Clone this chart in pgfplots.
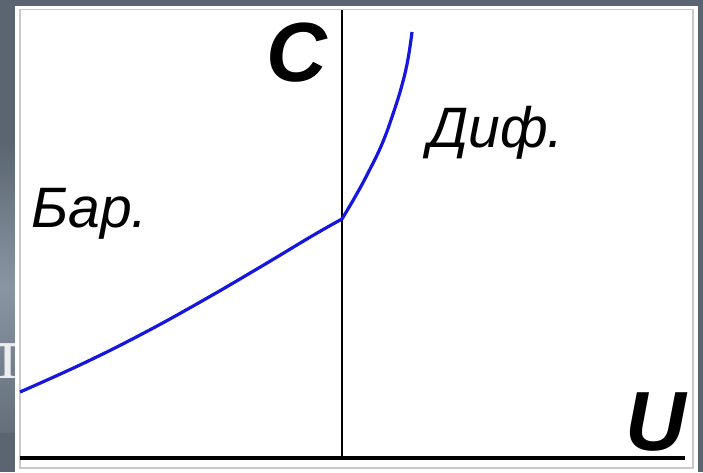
\documentclass[border=0pt]{standalone}
\usepackage{pgfplots}
\pgfplotsset{compat=1.18}
\usepackage{fontspec}
\setmainfont{Liberation Sans}
\newfontfamily\slidefont{Liberation Serif}

\definecolor{slate}{HTML}{5B6572}
\definecolor{slatelight}{HTML}{8A95A3}
\definecolor{curveblue}{RGB}{22,22,222}
\definecolor{framegray}{HTML}{C9C9C9}

% C(U) curve: barrier part (U<0) and diffusion part (U>0)
\pgfplotstableread{
u     c
-3.22 0.66
-2.60 0.94
-2.00 1.24
-1.40 1.57
-0.80 1.92
-0.30 2.22
 0.00 2.39
}\barrier
\pgfplotstableread{
u     c
0.00 2.39
0.13 2.61
0.26 2.85
0.40 3.14
0.51 3.44
0.60 3.73
0.66 3.99
0.70 4.26
}\diffusion

\begin{document}
\begin{tikzpicture}[x=1pt,y=1pt]
\clip (0,0) rectangle (703,472);
% slide background
\fill[slate] (0,0) rectangle (703,472);
\shade[top color=slate, bottom color=slate!80!slatelight, middle color=slatelight]
  (0,40) rectangle (40,330);
\node[anchor=base, inner sep=0, text=white!88!slate,
      font=\slidefont\fontsize{76}{76}\selectfont] at (8,94) {т};
% white panel with thin grey frame
\fill[white] (15,0) rectangle (698,466);
\draw[framegray, line width=1.8pt] (20,4) rectangle (693,462.5);

\begin{axis}[
  at={(20pt,14pt)}, anchor=south west,
  scale only axis, width=665pt, height=448pt,
  xmin=-3.22, xmax=3.43, ymin=0, ymax=4.48,
  hide axis, clip=false,
]
  % coordinate axes
  \addplot[black, line width=3.2pt, line cap=butt] coordinates {(-3.22,0) (3.43,0)};
  \addplot[black, line width=2.2pt] coordinates {(0,0) (0,4.48)};
  % capacitance curve
  \addplot[curveblue, line width=3.2pt, smooth, tension=0.7] table[x=u, y=c] {\barrier};
  \addplot[curveblue, line width=3.2pt, smooth, tension=0.7] table[x=u, y=c] {\diffusion};
\end{axis}

% labels
\node[anchor=base, inner sep=0, font=\fontsize{84}{84}\selectfont\bfseries\itshape]
  at (297,390) {C};
\node[anchor=base, inner sep=0, font=\fontsize{84}{84}\selectfont\bfseries\itshape]
  at (656,22) {U};
\node[anchor=base west, inner sep=0, font=\fontsize{57}{57}\selectfont\itshape]
  at (31,245) {Бар.};
\node[anchor=base west, inner sep=0, font=\fontsize{57}{57}\selectfont\itshape]
  at (428,324) {Диф.};
\end{tikzpicture}
\end{document}
